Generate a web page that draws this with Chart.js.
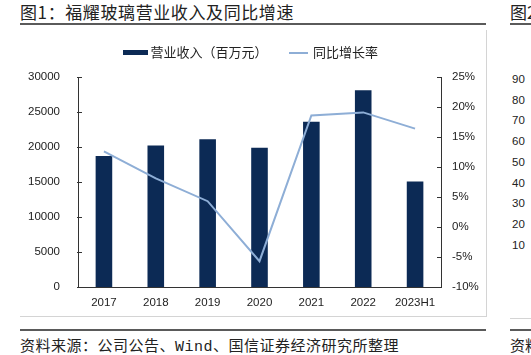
<!DOCTYPE html>
<html><head><meta charset="utf-8">
<script src="https://cdn.jsdelivr.net/npm/chart.js@4.4.1/dist/chart.umd.min.js"></script>
<style>
html,body{margin:0;padding:0;background:#fff;}
body{width:531px;height:355px;position:relative;overflow:hidden;font-family:"Noto Sans CJK SC",sans-serif;}
.abs{position:absolute;white-space:nowrap;}
#c{position:absolute;left:0;top:0;}
.n2{position:absolute;left:512px;font-family:"Liberation Sans",Arial,sans-serif;font-size:11.5px;line-height:13px;color:#222;}
</style></head><body>
<div class="abs" style="left:20px;top:1px;font-size:17px;line-height:22px;color:#222;letter-spacing:0.6px;">图1：福耀玻璃营业收入及同比增速</div>
<div class="abs" style="left:20px;top:23px;width:466px;height:2px;background:#5a5a5a"></div>
<div class="abs" style="left:486px;top:30px;width:1px;height:286px;background:#d4d4d4"></div>
<div class="abs" style="left:20px;top:316px;width:467px;height:1px;background:#d4d4d4"></div>
<div class="abs" style="left:20px;top:329px;width:466px;height:2px;background:#5a5a5a"></div>
<div class="abs" style="left:20px;top:335px;font-size:15px;line-height:20px;color:#222;letter-spacing:0.5px;">资料来源：公司公告、<span style="font-family:'Liberation Mono',monospace;">Wind</span>、国信证券经济研究所整理</div>

<div class="abs" style="left:510px;top:1px;font-size:17px;line-height:22px;color:#222;">图2</div>
<div class="abs" style="left:510px;top:23px;width:21px;height:2px;background:#5a5a5a"></div>
<div class="abs" style="left:510px;top:318px;width:21px;height:1px;background:#d4d4d4"></div>
<div class="abs" style="left:510px;top:329px;width:21px;height:2px;background:#5a5a5a"></div>
<div class="abs" style="left:510px;top:335px;font-size:15px;line-height:20px;color:#222;">资料</div>
<div id="n2wrap"></div>

<canvas id="c" width="531" height="355"></canvas>
<script>
const categories = ['2017', '2018', '2019', '2020', '2021', '2022', '2023H1'];
const revenue = [18716, 20225, 21104, 19906, 23603, 28099, 15060];
const growth = [12.6, 8.1, 4.3, -5.7, 18.6, 19.1, 16.4];
const leftTicks = [0, 5000, 10000, 15000, 20000, 25000, 30000];
const rightTicks = [-10, -5, 0, 5, 10, 15, 20, 25];
const seriesNames = ['营业收入（百万元）', '同比增长率'];
const sideChartTicks = ['90', '80', '70', '60', '50', '40', '30', '20', '10'];

const BAR = '#0c2a55';
const LINE = '#8eaed6';
const AXIS = '#333333';
const TXT = '#222222';

(function(){
  const w = document.getElementById('n2wrap');
  sideChartTicks.forEach((t, i) => {
    const d = document.createElement('div');
    d.className = 'n2';
    d.style.top = (73 + i * 20.7) + 'px';
    d.textContent = t;
    w.appendChild(d);
  });
})();

function swatch(w, h, color, lw) {
  const c = document.createElement('canvas');
  c.width = w; c.height = h;
  const x = c.getContext('2d');
  x.fillStyle = color;
  x.fillRect(0, (h - lw) / 2, w, lw);
  return c;
}
const barSwatch = swatch(25, 5, BAR, 5);
const lineSwatch = swatch(19, 2, LINE, 2);

const legendGap = {
  id: 'legendGap',
  beforeLayout(chart) {
    const lg = chart.legend;
    if (lg && !lg._gapPatched) {
      const orig = lg.fit;
      lg.fit = function() { orig.call(this); this.height += 8; };
      lg._gapPatched = true;
    }
  }
};

const innerTicks = {
  id: 'innerTicks',
  afterDraw(chart) {
    const ctx = chart.ctx;
    ['y', 'y1'].forEach(id => {
      const s = chart.scales[id];
      ctx.save();
      ctx.strokeStyle = AXIS;
      ctx.lineWidth = 1;
      const x0 = id === 'y' ? chart.chartArea.left : chart.chartArea.right;
      const dir = id === 'y' ? 1 : -1;
      s.ticks.forEach(t => {
        const y = Math.round(s.getPixelForValue(t.value)) + 0.5;
        ctx.beginPath();
        ctx.moveTo(x0 - dir * 1, y);
        ctx.lineTo(x0 + dir * 4, y);
        ctx.stroke();
      });
      ctx.restore();
    });
  }
};

const tickFont = {family: '"Liberation Sans", Arial, sans-serif', size: 11.5};

new Chart(document.getElementById('c'), {
  type: 'bar',
  data: {
    labels: categories,
    datasets: [
      {
        type: 'bar',
        label: seriesNames[0],
        data: revenue,
        backgroundColor: BAR,
        borderWidth: 0,
        barPercentage: 0.32,
        categoryPercentage: 1.0,
        yAxisID: 'y',
        order: 1
      },
      {
        type: 'line',
        label: seriesNames[1],
        data: growth,
        borderColor: LINE,
        backgroundColor: LINE,
        borderWidth: 2,
        pointRadius: 0,
        tension: 0,
        yAxisID: 'y1',
        order: 0
      }
    ]
  },
  options: {
    responsive: false,
    animation: false,
    devicePixelRatio: 1,
    layout: {padding: {top: 23, left: 20, right: 45, bottom: 39}},
    plugins: {
      tooltip: {enabled: false},
      title: {display: false},
      legend: {
        display: true,
        position: 'top',
        align: 'center',
        labels: {
          usePointStyle: true,
          pointStyleWidth: 16,
          padding: 23,
          color: TXT,
          font: {family: '"Noto Sans CJK SC", sans-serif', size: 13},
          generateLabels(chart) {
            return chart.data.datasets.map((ds, i) => ({
              text: ds.label,
              pointStyle: i === 0 ? barSwatch : lineSwatch,
              fillStyle: i === 0 ? BAR : LINE,
              strokeStyle: i === 0 ? BAR : LINE,
              lineWidth: 0,
              fontColor: TXT,
              hidden: false,
              datasetIndex: i
            }));
          }
        }
      }
    },
    scales: {
      x: {
        grid: {display: false, drawTicks: false},
        border: {display: true, color: AXIS, width: 1},
        ticks: {font: tickFont, color: TXT, padding: 9, maxRotation: 0, autoSkip: false},
        afterFit(s) { s.height = 29; }
      },
      y: {
        position: 'left',
        min: leftTicks[0],
        max: leftTicks[leftTicks.length - 1],
        ticks: {stepSize: leftTicks[1] - leftTicks[0], font: tickFont, color: TXT, padding: 18,
          callback: v => String(v)},
        grid: {display: false, drawTicks: false},
        border: {display: true, color: AXIS, width: 1},
        afterFit(s) { s.width = 58; }
      },
      y1: {
        position: 'right',
        min: rightTicks[0],
        max: rightTicks[rightTicks.length - 1],
        ticks: {stepSize: rightTicks[1] - rightTicks[0], font: tickFont, color: TXT, padding: 11,
          callback: v => v + '%'},
        grid: {display: false, drawTicks: false},
        border: {display: true, color: AXIS, width: 1},
        afterFit(s) { s.width = 45; }
      }
    }
  },
  plugins: [legendGap, innerTicks]
});
</script>
</body></html>
